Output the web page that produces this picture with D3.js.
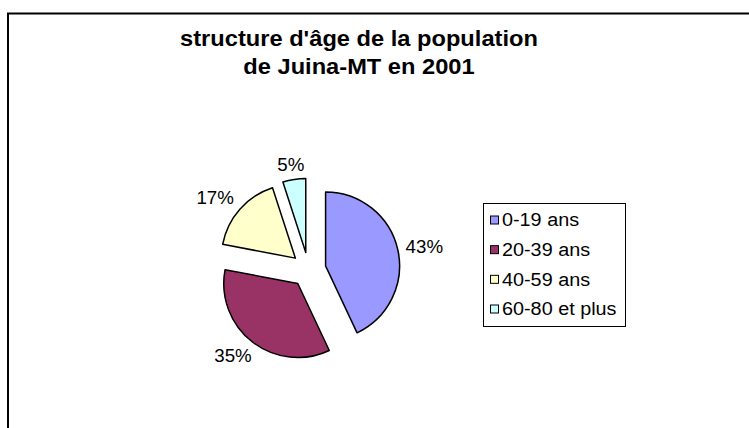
<!DOCTYPE html>
<html>
<head>
<meta charset="utf-8">
<script src="https://cdn.jsdelivr.net/npm/d3@7"></script>
<style>
  html, body { margin: 0; padding: 0; background: #fff; }
  svg { display: block; }
  text { font-family: "Liberation Sans", Arial, sans-serif; fill: #000; }
</style>
</head>
<body>
<svg id="chart" width="749" height="428"></svg>
<script>
// Age structure of Juina-MT population, 2001 (percent)
const categories = ["0-19 ans", "20-39 ans", "40-59 ans", "60-80 et plus"];
const values = [43, 35, 17, 5];
const valueLabels = ["43%", "35%", "17%", "5%"];
const colors = ["#9999FF", "#993366", "#FFFFCC", "#CCFFFF"];
const titleLines = ["structure d'âge de la population", "de Juina-MT en 2001"];

const svg = d3.select("#chart");

// widen text slightly, the way the chart's original renderer spaced its glyphs
function widen(sel, factor) {
  sel.each(function () {
    const w = this.getComputedTextLength();
    d3.select(this)
      .attr("textLength", w * factor)
      .attr("lengthAdjust", "spacingAndGlyphs");
  });
}

// chart frame (right and bottom edges run off the page)
svg.append("rect")
  .attr("x", 8).attr("y", 13.5)
  .attr("width", 800).attr("height", 500)
  .attr("fill", "#fff")
  .attr("stroke", "#000").attr("stroke-width", 2);

// title
svg.append("g").selectAll("text")
  .data(titleLines)
  .join("text")
  .attr("x", 359)
  .attr("y", (d, i) => 46 + i * 28)
  .attr("text-anchor", "middle")
  .attr("font-weight", "bold")
  .attr("font-size", 21.5)
  .text(d => d)
  .call(widen, 1.1);

// pie
const cx = 308.5, cy = 269.7, radius = 74, explode = 17.5, gap = 8;
const pie = d3.pie().sort(null).value(d => d);
const arcs = pie(values);
const arc = d3.arc().innerRadius(0).outerRadius(radius);

const g = svg.append("g").attr("transform", `translate(${cx},${cy})`);

const dirOf = d => {
  const a = (d.startAngle + d.endAngle) / 2;
  return [Math.sin(a), -Math.cos(a)];
};

g.selectAll("path")
  .data(arcs)
  .join("path")
  .attr("transform", d => {
    const [dx, dy] = dirOf(d);
    return `translate(${explode * dx},${explode * dy})`;
  })
  .attr("d", arc)
  .attr("fill", (d, i) => colors[i])
  .attr("stroke", "#000")
  .attr("stroke-width", 1.5)
  .attr("stroke-linejoin", "round");

// value labels sit just outside each exploded slice, pushed out by their own box size
const labels = g.selectAll("text")
  .data(arcs)
  .join("text")
  .attr("text-anchor", "middle")
  .attr("dy", "0.35em")
  .attr("font-size", 18)
  .text((d, i) => valueLabels[i])
  .call(widen, 1.04);

labels.attr("transform", function (d) {
  const [dx, dy] = dirOf(d);
  const bb = this.getBBox();
  const hw = bb.width / 2, hh = 7;
  const m = Math.max(Math.abs(dx), Math.abs(dy));
  const x = (explode + radius + gap) * dx + hw * dx / m;
  const y = (explode + radius + gap) * dy + hh * dy / m;
  return `translate(${x},${y})`;
});

// legend
const legend = svg.append("g");
legend.append("rect")
  .attr("x", 483.5).attr("y", 203.5)
  .attr("width", 142).attr("height", 123)
  .attr("fill", "#fff")
  .attr("stroke", "#000").attr("stroke-width", 1);

const rowY = d3.scalePoint().domain(categories).range([220, 309]);
const items = legend.selectAll("g.item")
  .data(categories)
  .join("g")
  .attr("class", "item")
  .attr("transform", d => `translate(0,${rowY(d)})`);

items.append("rect")
  .attr("x", 490.5).attr("y", -4)
  .attr("width", 8).attr("height", 8)
  .attr("fill", (d, i) => colors[i])
  .attr("stroke", "#000").attr("stroke-width", 1);

items.append("text")
  .attr("x", 502)
  .attr("dy", "0.35em")
  .attr("font-size", 18)
  .text(d => d)
  .call(widen, 1.1);
</script>
</body>
</html>
